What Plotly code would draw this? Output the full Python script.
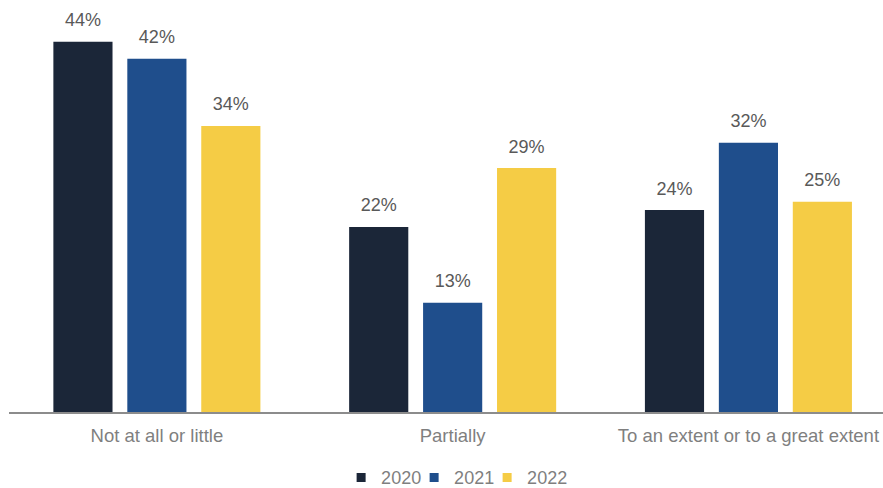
import plotly.graph_objects as go

categories = ["Not at all or little", "Partially", "To an extent or to a great extent"]
years = ["2020", "2021", "2022"]
values_2020 = [44, 22, 24]
values_2021 = [42, 13, 32]
values_2022 = [34, 29, 25]

series = {"2020": values_2020, "2021": values_2021, "2022": values_2022}
colors = {"2020": "#1b2638", "2021": "#1f4e8c", "2022": "#f5cc45"}

FONT = "Liberation Sans, Arial, sans-serif"

fig = go.Figure()

for year in years:
    # bars
    fig.add_trace(
        go.Bar(
            x=categories,
            y=series[year],
            name=year,
            marker_color=colors[year],
            marker_line_width=0,
            offsetgroup=year,
            alignmentgroup="a",
            showlegend=False,
        )
    )
    # value labels, placed above the bars by the library
    fig.add_trace(
        go.Scatter(
            x=categories,
            y=series[year],
            mode="markers+text",
            text=[f"{v}%" for v in series[year]],
            textposition="top center",
            textfont=dict(family=FONT, size=18, color="#595959"),
            marker=dict(size=16, opacity=0),
            offsetgroup=year,
            alignmentgroup="a",
            cliponaxis=False,
            showlegend=False,
            hoverinfo="skip",
        )
    )

# legend entries with small square swatches
for year in years:
    fig.add_trace(
        go.Scatter(
            x=[None],
            y=[None],
            mode="markers",
            name=year,
            marker=dict(symbol="square", size=9, color=colors[year]),
        )
    )
# empty spacer entry so the last legend label is not clipped
fig.add_trace(
    go.Scatter(
        x=[None],
        y=[None],
        mode="markers",
        name=" ",
        marker=dict(size=1, color="rgba(0,0,0,0)"),
        hoverinfo="skip",
    )
)

fig.update_layout(
    width=883,
    height=488,
    margin=dict(l=9, r=0, t=20, b=76),
    paper_bgcolor="white",
    plot_bgcolor="white",
    barmode="group",
    scattermode="group",
    bargap=0.25,
    bargroupgap=0.2,
    font=dict(family=FONT, size=18, color="#7f7f7f"),
    xaxis=dict(
        type="category",
        range=[-0.5, 2.455],
        automargin=False,
        showline=True,
        linecolor="#8c8c8c",
        linewidth=2,
        showgrid=False,
        ticks="outside",
        ticklen=6,
        tickcolor="rgba(0,0,0,0)",
        tickfont=dict(family=FONT, size=18.5, color="#7f7f7f"),
    ),
    yaxis=dict(
        range=[0, 46.6],
        visible=False,
        showgrid=False,
        zeroline=False,
        automargin=False,
    ),
    legend=dict(
        orientation="h",
        x=0.38,
        xanchor="left",
        y=0.059,
        yref="container",
        yanchor="top",
        font=dict(family=FONT, size=18, color="#7f7f7f"),
        itemwidth=30,
        entrywidth=28,
        entrywidthmode="pixels",
    ),
)

# drop the browser's default page margin so the figure sits at the corner
fig.write_html(
    "out.html",
    config={"displayModeBar": False},
    post_script="document.body.style.margin='0';",
)
